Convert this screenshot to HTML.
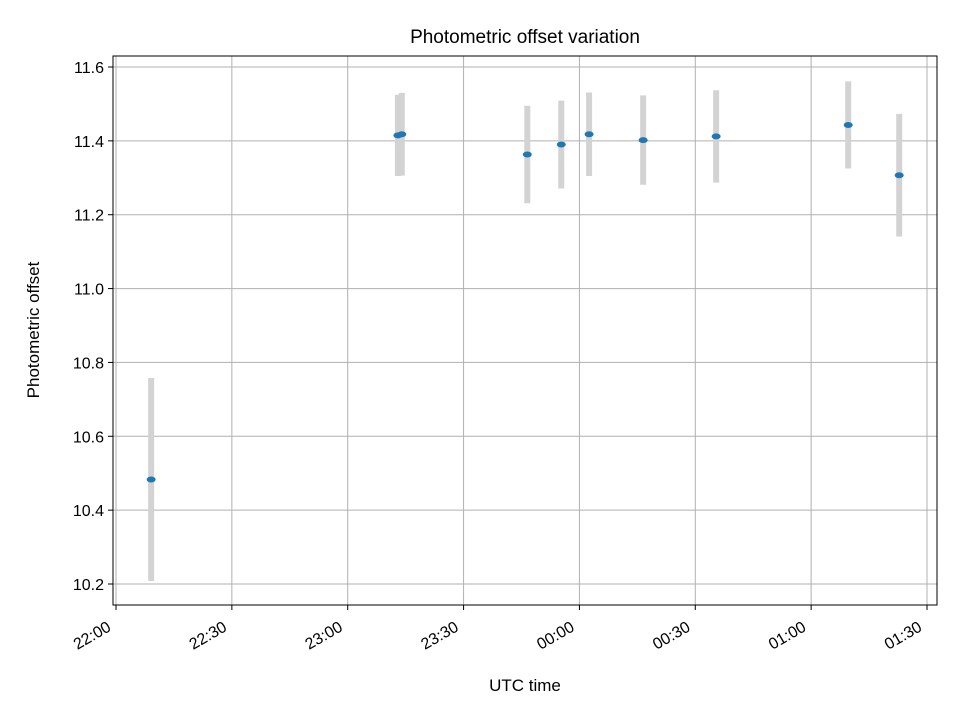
<!DOCTYPE html>
<html><head><meta charset="utf-8"><style>
body{margin:0;background:#fff}
svg{font-family:"Liberation Sans","DejaVu Sans",sans-serif}
</style></head><body>
<svg id="c" width="960" height="720" xmlns="http://www.w3.org/2000/svg"></svg>
<script>
const times=[9.1,73,74,106.5,115.3,122.5,136.5,155.4,189.6,202.8]; // minutes after 22:00
const values=[10.483,11.415,11.418,11.363,11.39,11.418,11.402,11.412,11.443,11.307];
const errors=[0.275,0.11,0.112,0.132,0.119,0.113,0.121,0.125,0.118,0.166];
const xTickLabels=["22:00","22:30","23:00","23:30","00:00","00:30","01:00","01:30"];
const xTickMins=[0,30,60,90,120,150,180,210];
const yTicks=[10.2,10.4,10.6,10.8,11.0,11.2,11.4,11.6];

const svg=document.getElementById('c');
const NS="http://www.w3.org/2000/svg";
const L=113,R=937,T=56,B=605;
const sx=m=>116+m*(927-116)/210;
const sy=v=>584-(v-10.2)*(584-67)/1.4;
function mk(tag,attrs,parent){const e=document.createElementNS(NS,tag);for(const k in attrs)e.setAttribute(k,attrs[k]);(parent||svg).appendChild(e);return e;}

const grid=mk('g',{});


xTickMins.forEach((m,i)=>{
  const x=sx(m);
  mk('line',{x1:x,x2:x,y1:T,y2:B,stroke:'#b0b0b0','stroke-width':1},grid);
  mk('line',{x1:x,x2:x,y1:B,y2:B+5,stroke:'#000','stroke-width':1});
  const t=mk('text',{x:0,y:0,'font-size':16,'text-anchor':'end',transform:`translate(${x-4} ${B+25}) rotate(-30)`});
  t.textContent=xTickLabels[i];
  
  
});
yTicks.forEach(v=>{
  const y=sy(v);
  mk('line',{x1:L,x2:R,y1:y,y2:y,stroke:'#b0b0b0','stroke-width':1},grid);
  mk('line',{x1:L-5,x2:L,y1:y,y2:y,stroke:'#000','stroke-width':1});
  const t=mk('text',{x:L-9,y:y+6,'font-size':16,'text-anchor':'end'});
  t.textContent=v.toFixed(1);
  
  
});
times.forEach((m,i)=>{
  const x=sx(m);
  const e=mk('line',{x1:x,x2:x,y1:sy(values[i]-errors[i]),y2:sy(values[i]+errors[i]),stroke:'#d3d3d3','stroke-width':6});
  
  
});
times.forEach((m,i)=>{
  const p=mk('ellipse',{cx:sx(m),cy:sy(values[i]),rx:4.5,ry:3,fill:'#1f77b4'});
  
  
});
const frame=mk('rect',{x:L,y:T,width:R-L,height:B-T,fill:'none',stroke:'#000','stroke-width':1});


const title=mk('text',{x:525,y:43,'font-size':19,'text-anchor':'middle'});
title.textContent='Photometric offset variation';


const xt=mk('text',{x:525,y:691,'font-size':17,'text-anchor':'middle'});
xt.textContent='UTC time';


const yt=mk('text',{x:39,y:330,'font-size':17,'text-anchor':'middle',transform:'rotate(-90 39 330)'});
yt.textContent='Photometric offset';


</script>
</body></html>
